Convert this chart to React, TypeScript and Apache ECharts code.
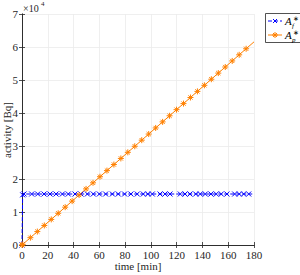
import React, { useEffect, useRef } from "react";
import * as echarts from "echarts";

const xTicks = [0, 20, 40, 60, 80, 100, 120, 140, 160, 180];
const yTickLabels = ["0", "1", "2", "3", "4", "5", "6", "7"];

// A_f^* : time [min], activity [Bq]
const afTime = [0, 0.5, 1.6, 7.5, 12.2, 17.1, 21.7, 26.4, 31.3, 35.9, 41.1, 45.8, 50.7, 55.3, 60, 64.9, 70.1, 74.7, 79.6, 84.5, 89.4, 94.1, 97.6, 101.1, 107.1, 110.9, 114.8, 122.8, 126.5, 130.3, 134.8, 138.3, 142.2, 146.6, 150.7, 154.6, 159, 165, 168.6, 172, 175.9, 180];
const afValue = [0, 15200, 15450, 15450, 15450, 15450, 15450, 15450, 15450, 15450, 15450, 15450, 15450, 15450, 15450, 15450, 15450, 15450, 15450, 15450, 15450, 15450, 15450, 15450, 15450, 15450, 15450, 15450, 15450, 15450, 15450, 15450, 15450, 15450, 15450, 15450, 15450, 15450, 15450, 15450, 15450, 15450];

// A_p^*
const apTime = [0, 0.6, 6.5, 11.9, 17.3, 22.7, 28.1, 33.5, 38.9, 44.3, 49.7, 55.1, 60.5, 65.9, 71.3, 76.7, 82.1, 87.5, 92.9, 98.3, 103.7, 109.1, 114.5, 119.9, 125.3, 130.7, 136.1, 141.5, 146.9, 152.3, 157.7, 163.1, 168.5, 173.9, 180];
const apValue = [0, 205, 2220, 4070, 5920, 7760, 9610, 11460, 13300, 15150, 17000, 18840, 20690, 22540, 24380, 26230, 28080, 29920, 31770, 33620, 35470, 37310, 39160, 41010, 42850, 44700, 46550, 48390, 50240, 52090, 53930, 55780, 57630, 59470, 61560];

const BLUE = "#0000ff";
const ORANGE = "#ff8000";
const FONT = "Liberation Serif";
const CROSS = "path://M-5,-5L5,5M-5,5L5,-5";
const STAR = "path://M0,-5L0,5M-5,0L5,0M-3.5,-3.5L3.5,3.5M-3.5,3.5L3.5,-3.5";

export default function App() {
  const ref = useRef<HTMLDivElement>(null);
  useEffect(() => {
    const chart = echarts.init(ref.current!, null, { renderer: "svg" });
    const af = afTime.map((t, i) => (i === afTime.length - 1 ? { value: [t, afValue[i]], symbol: "none" } : [t, afValue[i]]));
    const ap = apTime.map((t, i) => (i === apTime.length - 1 ? { value: [t, apValue[i]], symbol: "none" } : [t, apValue[i]]));
    const axisLine = { show: true, lineStyle: { color: "#262626", width: 0.8 } };
    const tick = { show: true, inside: true, length: 3, lineStyle: { color: "#262626", width: 0.8 } };
    const legendText = (x: number, y: number, sub: string) => [
      { type: "text", x, y, style: { text: "A", font: `italic 11px ${FONT}`, fill: "#000", textVerticalAlign: "middle" } },
      { type: "text", x: x + 8, y: y - 2, style: { text: "∗", font: `7px ${FONT}`, fill: "#000", textVerticalAlign: "middle" } },
      { type: "text", x: x + 7, y: y + 5, style: { text: sub, font: `italic 7px ${FONT}`, fill: "#000", textVerticalAlign: "middle" } },
    ];
    chart.setOption({
      animation: false,
      grid: { left: 22, right: 46, top: 14, bottom: 30, containLabel: false, outerBoundsMode: "none" },
      xAxis: [
        {
          type: "value", min: 0, max: 180, interval: 20,
          axisLine, axisTick: tick,
          axisLabel: { color: "#262626", fontFamily: FONT, fontSize: 11, margin: 4 },
          splitLine: { show: true, lineStyle: { color: "#ebebeb", width: 0.8 } },
        },
        { type: "value", position: "top", min: 0, max: 180, interval: 20, axisLine, axisTick: tick, axisLabel: { show: false }, splitLine: { show: false } },
      ],
      yAxis: [
        {
          type: "value", min: 0, max: 70000, interval: 10000,
          axisLine, axisTick: tick,
          axisLabel: { color: "#262626", fontFamily: FONT, fontSize: 11, margin: 4, formatter: (v: number) => yTickLabels[Math.round(v / 10000)] },
          splitLine: { show: true, lineStyle: { color: "#ebebeb", width: 0.8 } },
        },
        { type: "value", position: "right", min: 0, max: 70000, interval: 10000, axisLine, axisTick: tick, axisLabel: { show: false }, splitLine: { show: false } },
      ],
      series: [
        {
          type: "line", name: "A_f^*", data: af, showAllSymbol: true,
          symbol: CROSS, symbolSize: 5,
          lineStyle: { color: BLUE, width: 1, type: [4, 2] },
          itemStyle: { color: "none", borderColor: BLUE, borderWidth: 1 },
        },
        {
          type: "line", name: "A_p^*", data: ap, showAllSymbol: true,
          symbol: STAR, symbolSize: 6,
          lineStyle: { color: ORANGE, width: 1 },
          itemStyle: { color: "none", borderColor: ORANGE, borderWidth: 1 },
        },
      ],
      graphic: [
        { type: "text", x: 138, y: 266, style: { text: "time [min]", font: `11px ${FONT}`, fill: "#262626", textAlign: "center", textVerticalAlign: "middle" } },
        { type: "text", x: 7, y: 130, rotation: Math.PI / 2, style: { text: "activity [Bq]", font: `11px ${FONT}`, fill: "#262626", textAlign: "center", textVerticalAlign: "middle" } },
        { type: "text", x: 23, y: 8, style: { text: "×10", font: `10px ${FONT}`, fill: "#262626", textVerticalAlign: "middle" } },
        { type: "text", x: 41, y: 4, style: { text: "4", font: `7px ${FONT}`, fill: "#262626", textVerticalAlign: "middle" } },
        { type: "rect", shape: { x: 265.5, y: 13.5, width: 40, height: 29 }, style: { fill: "#fff", stroke: "#262626", lineWidth: 0.8 } },
        { type: "line", shape: { x1: 268, y1: 21, x2: 282, y2: 21 }, style: { stroke: BLUE, lineWidth: 1, lineDash: [4, 2] } },
        { type: "line", shape: { x1: 273, y1: 19, x2: 277, y2: 23 }, style: { stroke: BLUE, lineWidth: 1 } },
        { type: "line", shape: { x1: 273, y1: 23, x2: 277, y2: 19 }, style: { stroke: BLUE, lineWidth: 1 } },
        { type: "line", shape: { x1: 268, y1: 35, x2: 282, y2: 35 }, style: { stroke: ORANGE, lineWidth: 1 } },
        { type: "line", shape: { x1: 275, y1: 32, x2: 275, y2: 38 }, style: { stroke: ORANGE, lineWidth: 1 } },
        { type: "line", shape: { x1: 272, y1: 35, x2: 278, y2: 35 }, style: { stroke: ORANGE, lineWidth: 1 } },
        { type: "line", shape: { x1: 273, y1: 33, x2: 277, y2: 37 }, style: { stroke: ORANGE, lineWidth: 1 } },
        { type: "line", shape: { x1: 273, y1: 37, x2: 277, y2: 33 }, style: { stroke: ORANGE, lineWidth: 1 } },
        ...legendText(285, 21, "f"),
        ...legendText(285, 35, "p"),
      ],
    });
    return () => chart.dispose();
  }, []);
  return <div ref={ref} style={{ width: 300, height: 275, position: "absolute", left: 0, top: 0 }} />;
}
